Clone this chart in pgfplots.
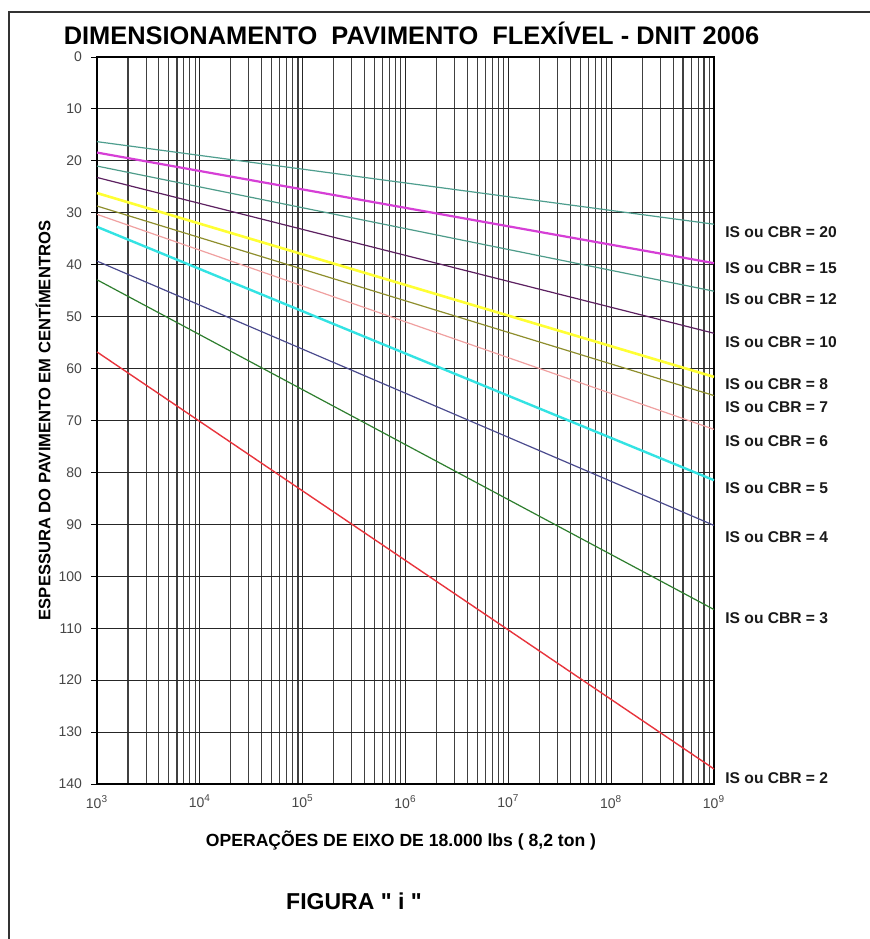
\documentclass[border=0pt]{standalone}
\usepackage{fontspec}
\setmainfont{Liberation Sans}
\usepackage{pgfplots}
\pgfplotsset{compat=1.18}
\usepackage{pgfplotstable}

\definecolor{c20}{HTML}{4E9E8E}
\definecolor{c15}{HTML}{D63FD6}
\definecolor{c12}{HTML}{4E9C8A}
\definecolor{c10}{HTML}{5C2060}
\definecolor{c8}{HTML}{FFFF33}
\definecolor{c7}{HTML}{8E8E2C}
\definecolor{c6}{HTML}{F0A0A0}
\definecolor{c5}{HTML}{33E3E3}
\definecolor{c4}{HTML}{4B4B8E}
\definecolor{c3}{HTML}{2E7E2E}
\definecolor{c2}{HTML}{E8343C}

\pgfplotstableread{
N c20 c15 c12 c10 c8 c7 c6 c5 c4 c3 c2
1000 16.3 18.4 21.0 23.2 26.2 28.7 30.3 32.7 39.3 42.9 56.8
1000000000 32.2 39.7 45.1 53.2 61.6 65.2 71.7 81.5 90.2 106.4 137.1
}\data

\begin{document}
\begin{tikzpicture}
\useasboundingbox (-48.5pt,-77.5pt) rectangle (386.5pt,392pt);
\fill[white] (-48.5pt,-77.5pt) rectangle (386.5pt,392pt);
\begin{axis}[
  scale only axis, width=308.5pt, height=363.5pt,
  xmode=log, xmin=1e3, xmax=1e9, ymin=0, ymax=140, y dir=reverse,
  xtick={1e3,1e4,1e5,1e6,1e7,1e8,1e9},
  xticklabels={10\textsuperscript{3},10\textsuperscript{4},10\textsuperscript{5},10\textsuperscript{6},10\textsuperscript{7},10\textsuperscript{8},10\textsuperscript{9}},
  minor xtick={2e3,3e3,4e3,5e3,6e3,7e3,8e3,9e3,
               2e4,3e4,4e4,5e4,6e4,7e4,8e4,9e4,
               2e5,3e5,4e5,5e5,6e5,7e5,8e5,9e5,
               2e6,3e6,4e6,5e6,6e6,7e6,8e6,9e6,
               2e7,3e7,4e7,5e7,6e7,7e7,8e7,9e7,
               2e8,3e8,4e8,5e8,6e8,7e8,8e8,9e8},
  ytick={0,10,20,30,40,50,60,70,80,90,100,110,120,130,140},
  yticklabels={0,10,20,30,40,50,60,70,80,90,100,110,120,130,140},
  xmajorgrids, xminorgrids, ymajorgrids,
  major grid style={line width=0.55pt, black!85},
  minor grid style={line width=0.55pt, black!75},
  axis line style={line width=0.55pt, black},
  tick pos=left, tick align=outside,
  major tick length=3pt,
  x tick style={draw=none}, minor x tick style={draw=none},
  y tick style={line width=0.5pt, black},
  ticklabel style={font=\fontsize{7}{8}\selectfont, text=black!72},
  yticklabel style={xshift=-1pt},
  xticklabel style={yshift=1pt},
  clip=false,
]
\addplot[c20, line width=0.6pt] table[x=N,y=c20]{\data};
\addplot[c15, line width=1.1pt] table[x=N,y=c15]{\data};
\addplot[c12, line width=0.6pt] table[x=N,y=c12]{\data};
\addplot[c10, line width=0.6pt] table[x=N,y=c10]{\data};
\addplot[c8, line width=1.3pt] table[x=N,y=c8]{\data};
\addplot[c7, line width=0.6pt] table[x=N,y=c7]{\data};
\addplot[c6, line width=0.6pt] table[x=N,y=c6]{\data};
\addplot[c5, line width=1.2pt] table[x=N,y=c5]{\data};
\addplot[c4, line width=0.6pt] table[x=N,y=c4]{\data};
\addplot[c3, line width=0.6pt] table[x=N,y=c3]{\data};
\addplot[c2, line width=0.7pt] table[x=N,y=c2]{\data};
\tikzset{lab/.style={anchor=west, inner sep=0pt, xshift=5.5pt, font=\bfseries\fontsize{7.8}{9}\selectfont, text=black!90}}
\node[lab] at (axis cs:1e9,33.7) {IS ou CBR = 20};
\node[lab] at (axis cs:1e9,40.7) {IS ou CBR = 15};
\node[lab] at (axis cs:1e9,46.7) {IS ou CBR = 12};
\node[lab] at (axis cs:1e9,55.0) {IS ou CBR = 10};
\node[lab] at (axis cs:1e9,62.9) {IS ou CBR = 8};
\node[lab] at (axis cs:1e9,67.5) {IS ou CBR = 7};
\node[lab] at (axis cs:1e9,73.9) {IS ou CBR = 6};
\node[lab] at (axis cs:1e9,83.1) {IS ou CBR = 5};
\node[lab] at (axis cs:1e9,92.4) {IS ou CBR = 4};
\node[lab] at (axis cs:1e9,108.0) {IS ou CBR = 3};
\node[lab] at (axis cs:1e9,138.8) {IS ou CBR = 2};
\end{axis}
\draw[line width=0.8pt, black!80] (-44pt,-77.5pt) -- (-44pt,386pt) -- (386.5pt,386pt);
\node[font=\bfseries\fontsize{12.7}{14}\selectfont] at (157.25pt,375.5pt) {DIMENSIONAMENTO\ \ PAVIMENTO\ \ FLEXÍVEL - DNIT 2006};
\node[rotate=90, font=\bfseries\fontsize{8.3}{10}\selectfont] at (-27pt,181.75pt) {ESPESSURA DO PAVIMENTO EM CENTÍMENTROS};
\node[font=\bfseries\fontsize{8.8}{10}\selectfont] at (152pt,-28pt) {OPERAÇÕES DE EIXO DE 18.000 lbs ( 8,2 ton )};
\node[font=\bfseries\fontsize{11.5}{13}\selectfont] at (128.5pt,-58.5pt) {FIGURA \textquotedbl\ i \textquotedbl};
\end{tikzpicture}
\end{document}
